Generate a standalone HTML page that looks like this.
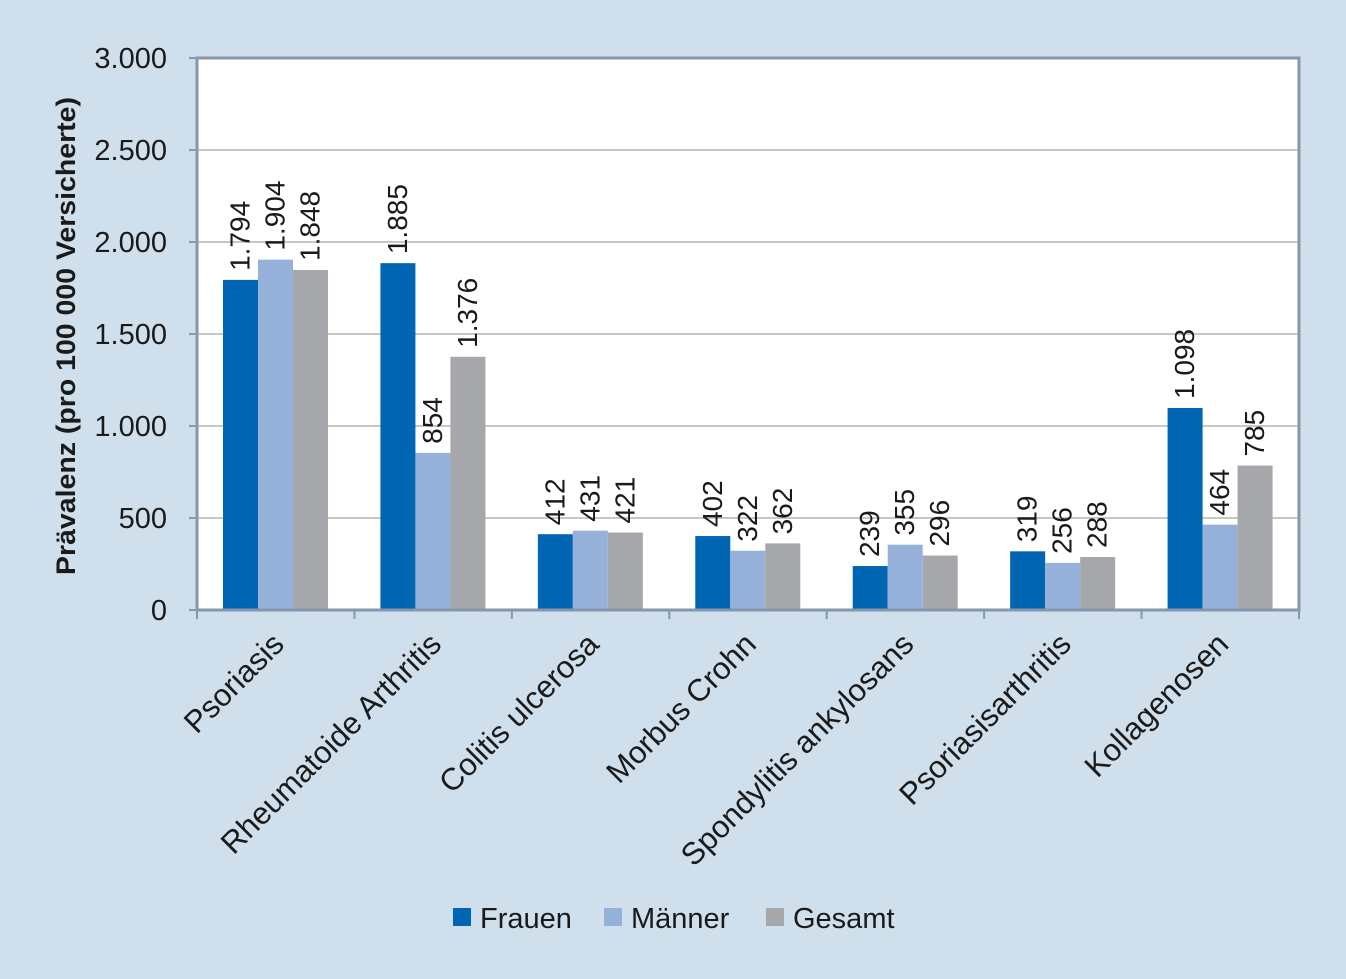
<!DOCTYPE html>
<html><head><meta charset="utf-8"><style>
html,body{margin:0;padding:0;background:#cfe0ec;}
svg{display:block;font-family:"Liberation Sans",sans-serif;}
</style></head><body>
<svg id="chart" width="1346" height="979">
<rect x="0" y="0" width="1346" height="979" fill="#cfe0ec"/>
<rect x="197" y="58" width="1102" height="552" fill="#ffffff"/>
<g id="grid"></g><g id="bars"></g><g id="labels"></g><g id="axes"></g>
<text x="0" y="0" transform="translate(75,336) rotate(-90)" text-anchor="middle" font-size="27" font-weight="bold" fill="#1a1a1a" textLength="478" lengthAdjust="spacingAndGlyphs">Prävalenz (pro 100 000 Versicherte)</text>
<g>
<rect x="453" y="908" width="18" height="18" fill="#0066b3"/>
<text x="480" y="928" font-size="29" fill="#1a1a1a">Frauen</text>
<rect x="604" y="908" width="18" height="18" fill="#95b1d9"/>
<text x="631" y="928" font-size="29" fill="#1a1a1a">Männer</text>
<rect x="766" y="908" width="18" height="18" fill="#a6a7aa"/>
<text x="793" y="928" font-size="29" fill="#1a1a1a">Gesamt</text>
</g>
</svg>
<script>
const categories=["Psoriasis","Rheumatoide Arthritis","Colitis ulcerosa","Morbus Crohn","Spondylitis ankylosans","Psoriasisarthritis","Kollagenosen"];
const frauen=[1794,1885,412,402,239,319,1098];
const maenner=[1904,854,431,322,355,256,464];
const gesamt=[1848,1376,421,362,296,288,785];
const yTicks=[0,500,1000,1500,2000,2500,3000];
const yTickLabels=["0","500","1.000","1.500","2.000","2.500","3.000"];
const NS="http://www.w3.org/2000/svg";
const L=197,R=1299,T=58,B=610,YMAX=3000;
const y=v=>B-(v/YMAX)*(B-T);
const gw=(R-L)/categories.length;
const x=i=>L+i*gw;
function mk(tag,attrs,parent){const e=document.createElementNS(NS,tag);for(const k in attrs)e.setAttribute(k,attrs[k]);document.getElementById(parent).appendChild(e);return e;}
function fmt(v){return v>=1000?Math.floor(v/1000)+"."+String(v%1000).padStart(3,"0"):String(v);}
yTicks.forEach((t,i)=>{
  if(t>0){const g=mk("line",{x1:L,x2:R,y1:y(t),y2:y(t),stroke:"#a8a69a","stroke-width":1.2},"grid");
  
  }
  const tk=mk("line",{x1:L-8,x2:L,y1:y(t),y2:y(t),stroke:"#8596ad","stroke-width":2},"axes");
  
  
  const lb=mk("text",{x:167,y:y(t)+10,"text-anchor":"end","font-size":29,fill:"#1a1a1a"},"axes");
  lb.textContent=yTickLabels[i];
  
  
});
const series=[[frauen,"#0066b3","frauen"],[maenner,"#95b1d9","maenner"],[gesamt,"#a6a7aa","gesamt"]];
const bw=35,off=26;
categories.forEach((c,i)=>{
  series.forEach(([vals,col,nm],s)=>{
    const bx=x(i)+off+s*bw;
    const r=mk("rect",{x:bx,y:y(vals[i]),width:bw,height:B-y(vals[i]),fill:col},"bars");
    
    
    const cx=bx+bw/2+9,ty=y(vals[i])-9;
    const t=mk("text",{x:0,y:0,transform:`translate(${cx},${ty}) rotate(-90)`,"font-size":28,fill:"#1a1a1a"},"labels");
    t.textContent=fmt(vals[i]);
    
    
  });
  const cl=mk("text",{x:0,y:0,transform:`translate(${x(i)+gw/2+10},${646}) rotate(-45)`,"text-anchor":"end","font-size":31,fill:"#1a1a1a"},"axes");
  cl.textContent=c;
  
  
});
for(let i=0;i<=categories.length;i++){
  const tk=mk("line",{x1:x(i),x2:x(i),y1:B,y2:B+9,stroke:"#8596ad","stroke-width":2},"axes");
  
  
}
const fr=mk("rect",{x:L,y:T,width:R-L,height:B-T,fill:"none",stroke:"#8596ad","stroke-width":3},"axes");


</script>
</body></html>
